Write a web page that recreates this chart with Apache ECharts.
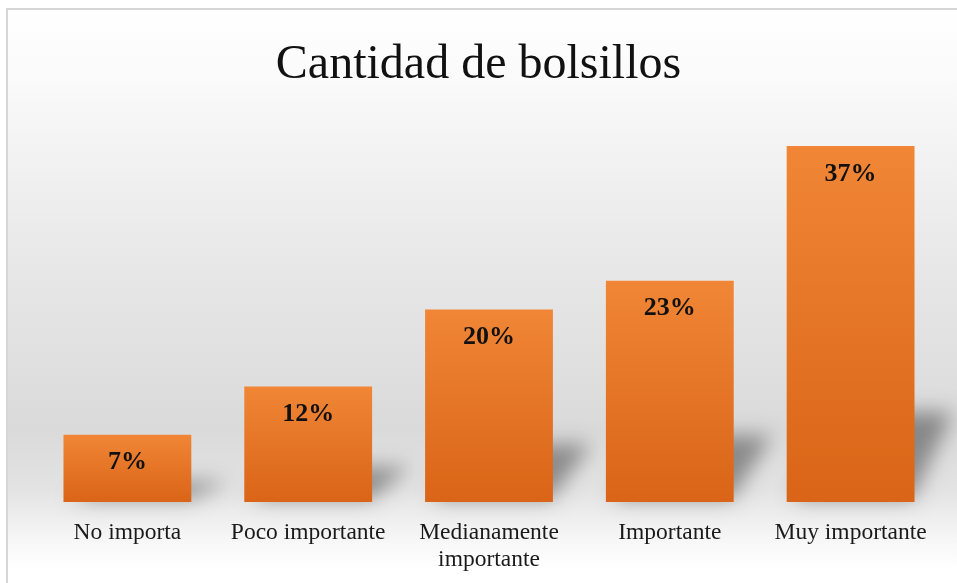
<!DOCTYPE html>
<html>
<head>
<meta charset="utf-8">
<script src="https://cdn.jsdelivr.net/npm/echarts@6/dist/echarts.min.js"></script>
<style>
  html, body { margin: 0; padding: 0; background: #ffffff; }
  #chart { width: 957px; height: 583px; }
</style>
</head>
<body>
<div id="chart"></div>
<script>
// Survey answers: importance of the number of pockets
const titleText = 'Cantidad de bolsillos';
const categories = ['No importa', 'Poco importante', 'Medianamente\nimportante', 'Importante', 'Muy importante'];
const values = [7, 12, 20, 23, 37];

const serif = '"Liberation Serif", "Times New Roman", serif';
const barShare = 0.707;
// The shadow caster is drawn off-canvas; only its blurred shadow lands on screen
const SHIFT = 2000;

const chart = echarts.init(document.getElementById('chart'), null, { renderer: 'canvas' });

// Soft perspective shadow cast to the lower right of each bar
function renderShadow(params, api) {
  const idx = api.value(0);
  const top = api.coord([idx, api.value(1)]);
  const base = api.coord([idx, 0]);
  const w = api.size([1, 0])[0] * barShare;
  const h = base[1] - top[1];
  const x0 = base[0] - w / 2 - SHIFT;
  const x1 = base[0] + w / 2 - SHIFT;
  const hs = Math.min(h * 0.3, 90);
  const dx = 38;
  return {
    type: 'polygon',
    shape: {
      points: [[x0 + 8, base[1] - 3], [x1 - 2, base[1] - 3], [x1 + dx, base[1] - hs], [x0 + dx, base[1] - hs]]
    },
    style: {
      fill: '#000000',
      shadowBlur: 20,
      shadowOffsetX: SHIFT,
      shadowColor: 'rgba(0,0,0,0.38)'
    }
  };
}

chart.setOption({
  animation: false,
  graphic: [{
    type: 'rect',
    z: -10,
    silent: true,
    shape: { x: 7, y: 9, width: 960, height: 600 },
    style: {
      fill: new echarts.graphic.LinearGradient(0, 0, 0, 1, [
        { offset: 0, color: '#ffffff' },
        { offset: 0.12, color: '#fafafa' },
        { offset: 0.4, color: '#e9e9e9' },
        { offset: 0.7, color: '#dadada' },
        { offset: 0.8, color: '#e3e3e3' },
        { offset: 0.88, color: '#f6f6f6' },
        { offset: 0.93, color: '#ffffff' },
        { offset: 1, color: '#ffffff' }
      ]),
      stroke: '#d6d6d6',
      lineWidth: 2
    }
  }],
  title: {
    text: titleText,
    left: 'center',
    top: 36,
    textStyle: { fontFamily: serif, fontSize: 48, fontWeight: 'normal', color: '#111111' }
  },
  grid: { left: 37, right: 16, top: 117, bottom: 81, containLabel: false },
  xAxis: {
    type: 'category',
    data: categories,
    axisLine: { show: false },
    axisTick: { show: false },
    axisLabel: {
      margin: 17,
      fontFamily: serif,
      fontSize: 23.5,
      lineHeight: 27,
      color: '#1a1a1a',
      interval: 0
    }
  },
  yAxis: {
    type: 'value',
    min: 0,
    max: 40,
    show: false,
    splitLine: { show: false }
  },
  series: [
    {
      type: 'custom',
      z: 1,
      silent: true,
      clip: false,
      renderItem: renderShadow,
      encode: { x: 0, y: 1 },
      data: values.map((v, i) => [i, v])
    },
    {
      type: 'bar',
      z: 3,
      data: values,
      barWidth: (barShare * 100) + '%',
      itemStyle: {
        color: new echarts.graphic.LinearGradient(0, 0, 0, 1, [
          { offset: 0, color: '#f08636' },
          { offset: 1, color: '#da6417' }
        ])
      },
      label: {
        show: true,
        position: 'insideTop',
        distance: 15,
        formatter: '{c}%',
        fontFamily: serif,
        fontSize: 26,
        fontWeight: 'bold',
        color: '#111111'
      }
    }
  ]
});
</script>
</body>
</html>
